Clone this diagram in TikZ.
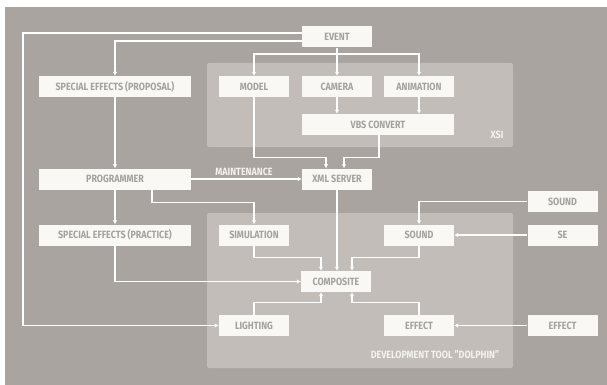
\documentclass[tikz,border=0pt]{standalone}
\usepackage{fontspec}
\setmainfont[FakeStretch=0.85]{Fira Sans}
\usetikzlibrary{arrows.meta,calc}
\definecolor{bgc}{HTML}{A9A4A0}
\definecolor{panel}{HTML}{C2BDB9}
\definecolor{boxc}{HTML}{F9F8F5}
\definecolor{txtc}{HTML}{A5A19E}
\definecolor{lbl}{HTML}{F4F2EF}
\tikzset{
  box/.style={fill=boxc, text=txtc, inner sep=0pt, minimum height=21pt, font=\bfseries\fontsize{10.5}{11}\selectfont},
  small/.style={box, minimum width=70pt},
  wide/.style={box, minimum width=152pt},
  ln/.style={draw=white, line width=1.3pt},
  arr/.style={ln, -{Latex[length=4pt,width=4.5pt]}},
  panelbox/.style={fill=panel, rounded corners=2pt},
  lab/.style={text=lbl, inner sep=0pt, font=\bfseries\fontsize{10.5}{11}\selectfont}
}
\begin{document}
\begin{tikzpicture}[x=1pt,y=-1pt]
\useasboundingbox (0,0) rectangle (607,385);
\fill[white] (0,0) rectangle (607,385);
\fill[bgc] (5,7) rectangle (607,385);
\fill[panelbox] (207,63) rectangle (513,147);
\fill[panelbox] (207,213) rectangle (513,368);
\node[lab] (xsi) at (497,135) {XSI};
\node[lab] (dolphin) at (435,355) {DEVELOPMENT TOOL "DOLPHIN"};

\node[small] (event) at (337,37) {EVENT};
\node[wide] (proposal) at (115,86.5) {SPECIAL EFFECTS (PROPOSAL)};
\node[small] (model) at (254,86.5) {MODEL};
\node[small] (camera) at (337,86.5) {CAMERA};
\node[small] (animation) at (419,86.5) {ANIMATION};
\node[wide] (vbs) at (378,124.5) {VBS CONVERT};
\node[wide] (programmer) at (115,179) {PROGRAMMER};
\node[small] (xml) at (337,179) {XML SERVER};
\node[wide] (practice) at (115,235) {SPECIAL EFFECTS (PRACTICE)};
\node[small] (simulation) at (254,235) {SIMULATION};
\node[small] (sound) at (419,235) {SOUND};
\node[small] (soundout) at (562.5,201.5) {SOUND};
\node[small] (se) at (562.5,235) {SE};
\node[small] (composite) at (336,281.5) {COMPOSITE};
\node[small] (lighting) at (254,325.5) {LIGHTING};
\node[small] (effect) at (419,325.5) {EFFECT};
\node[small] (effectout) at (562.5,325.5) {EFFECT};
\node[lab] (maint) at (244,172) {MAINTENANCE};

\coordinate (corner) at (23,33);
\coordinate (branch) at (337,54);

\draw[arr] ([yshift=4pt]event.west) -- (corner) |- (lighting.west);
\draw[arr] ([yshift=-4pt]event.west) -| (proposal.north);
\draw[arr] (event.south) -- (camera.north);
\draw[arr] (branch) -| (model.north);
\draw[arr] (branch) -| (animation.north);
\draw[arr] (camera.south) -- (camera.south |- vbs.north);
\draw[arr] (animation.south) -- (animation.south |- vbs.north);
\draw[arr] (model.south) -- ++(0,60) -| ([xshift=-11pt]xml.north);
\draw[arr] ([xshift=1pt]vbs.south) -- ++(0,22) -| ([xshift=7pt]xml.north);
\draw[arr] (proposal.south) -- (programmer.north);
\draw[arr] (programmer.south) -- (practice.north);
\draw[arr] ([xshift=37pt]programmer.south) -- ++(0,13) -| (simulation.north);
\draw[arr] (programmer.east) -- (programmer.east -| xml.west);
\draw[arr] (xml.south) -- (xml.south |- composite.north);
\draw[arr] (simulation.south) -- ++(0,12) -| ([xshift=-15pt]composite.north);
\draw[arr] (sound.south) -- ++(0,12) -| ([xshift=16pt]composite.north);
\draw[arr] (practice.south) |- (composite.west);
\draw[arr] (lighting.north) -- ++(0,-12) -| ([xshift=-15pt]composite.south);
\draw[arr] (effect.north) -- ++(0,-12) -| ([xshift=16pt]composite.south);
\draw[arr] (soundout.west) -| (sound.north);
\draw[arr] (se.west) -- (sound.east);
\draw[arr] (effectout.west) -- (effect.east);
\end{tikzpicture}
\end{document}
